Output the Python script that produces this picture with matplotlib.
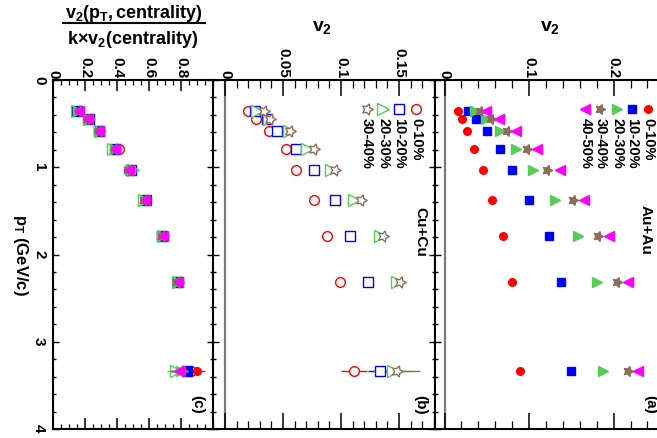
import matplotlib
matplotlib.use("Agg")
import matplotlib.pyplot as plt
from matplotlib.lines import Line2D

plt.rcParams['font.family'] = ['Liberation Sans', 'DejaVu Sans']
plt.rcParams['font.weight'] = 'bold'
plt.rcParams['mathtext.fontset'] = 'custom'
plt.rcParams['mathtext.rm'] = 'Liberation Sans:bold'
plt.rcParams['mathtext.it'] = 'Liberation Sans:bold'
plt.rcParams['mathtext.bf'] = 'Liberation Sans:bold'

# pT bin centres (GeV/c)
pt = [0.35, 0.45, 0.59, 0.79, 1.03, 1.37, 1.79, 2.32, 3.34]

# Au+Au v2(pT) per centrality
auau_0_10 = [0.016, 0.021, 0.027, 0.035, 0.045, 0.056, 0.069, 0.080, 0.089]
auau_10_20 = [0.028, 0.037, 0.050, 0.065, 0.080, 0.100, 0.123, 0.138, 0.150]
auau_20_30 = [0.036, 0.049, 0.065, 0.085, 0.105, 0.131, 0.158, 0.180, 0.187]
auau_30_40 = [0.042, 0.055, 0.074, 0.097, 0.121, 0.152, 0.182, 0.204, 0.217]
auau_40_50 = [0.049, 0.064, 0.085, 0.109, 0.136, 0.165, 0.194, 0.217, 0.229]

# Cu+Cu v2(pT) per centrality, with errors
cucu_0_10 = [0.020, 0.027, 0.038, 0.053, 0.061, 0.077, 0.088, 0.099, 0.111]
cucu_10_20 = [0.026, 0.036, 0.045, 0.061, 0.077, 0.095, 0.108, 0.123, 0.134]
cucu_20_30 = [0.028, 0.038, 0.055, 0.071, 0.091, 0.111, 0.134, 0.148, 0.145]
cucu_30_40 = [0.034, 0.039, 0.056, 0.077, 0.095, 0.117, 0.136, 0.151, 0.148]
cucu_err_0_10 = [0, 0, 0, 0, 0, 0, 0, 0, 0.011]
cucu_err_10_20 = [0, 0, 0, 0, 0, 0, 0, 0, 0.011]
cucu_err_20_30 = [0, 0, 0, 0, 0, 0, 0, 0, 0.015]
cucu_err_30_40 = [0, 0, 0, 0, 0, 0, 0, 0, 0.020]

# scaled ratio v2(pT,cent) / (k * v2(cent))
ratio_auau_0_10 = [0.155, 0.22, 0.29, 0.39, 0.48, 0.58, 0.69, 0.78, 0.90]
ratio_auau_10_20 = [0.15, 0.22, 0.29, 0.385, 0.475, 0.575, 0.685, 0.775, 0.84]
ratio_auau_20_30 = [0.155, 0.22, 0.29, 0.39, 0.48, 0.575, 0.68, 0.78, 0.80]
ratio_auau_30_40 = [0.16, 0.215, 0.285, 0.385, 0.47, 0.57, 0.68, 0.775, 0.81]
ratio_auau_40_50 = [0.16, 0.22, 0.29, 0.39, 0.475, 0.575, 0.685, 0.78, 0.79]
ratio_cucu_0_10 = [0.155, 0.22, 0.29, 0.41, 0.475, 0.58, 0.685, 0.775, 0.86]
ratio_cucu_10_20 = [0.15, 0.225, 0.29, 0.39, 0.485, 0.58, 0.68, 0.78, 0.84]
ratio_cucu_20_30 = [0.15, 0.225, 0.295, 0.375, 0.50, 0.57, 0.69, 0.78, 0.77]
ratio_cucu_30_40 = [0.155, 0.22, 0.29, 0.385, 0.48, 0.575, 0.685, 0.78, 0.80]
ratio_err_last = [0.05, 0.06, 0.06, 0.06, 0.06]

cent_auau = ['0-10%', '10-20%', '20-30%', '30-40%', '40-50%']
cent_cucu = ['0-10%', '10-20%', '20-30%', '30-40%']

RED, BLUE, GREEN, BROWN, MAG = '#ff0000', '#0000ff', '#55cc55', '#8c6e5a', '#ff00ff'
STAR = (5, 1, -90)
au_style = [('o', RED, 5.5), ('s', BLUE, 5.5), ('>', GREEN, 7), (STAR, BROWN, 7.5), ('<', MAG, 7)]
cu_style = [('o', RED, 7), ('s', BLUE, 7), ('>', GREEN, 8), (STAR, BROWN, 8.5)]

W, H = 657, 439
fig = plt.figure(figsize=(W / 100, H / 100), dpi=100)
y0 = 1 - 430 / H
h = (430 - 81) / H
ax_c = fig.add_axes([53 / W, y0, 160 / W, h])
ax_b = fig.add_axes([213 / W, y0, 222 / W, h])
ax_a = fig.add_axes([435 / W, y0, 237 / W, h])


def setup(ax, xlim, major, labels, minor, ml, nl):
    ax.set_xlim(*xlim)
    ax.set_ylim(4, 0)
    ax.set_xticks(major, labels)
    ax.set_xticks(minor, minor=True)
    ax.set_yticks([0, 1, 2, 3, 4])
    ax.set_yticks([v / 5 for v in range(21)], minor=True)
    ax.tick_params(axis='x', which='both', direction='in', top=True, bottom=True,
                   labeltop=True, labelbottom=False, labelrotation=-90,
                   labelsize=11, pad=2, width=1.1)
    ax.tick_params(axis='x', which='major', length=ml)
    ax.tick_params(axis='x', which='minor', length=nl, width=0.9)
    ax.tick_params(axis='y', which='both', direction='in', left=True, right=True,
                   labelleft=False, width=1.0)
    ax.tick_params(axis='y', which='major', length=4)
    ax.tick_params(axis='y', which='minor', length=2.2)
    for s in ax.spines.values():
        s.set_linewidth(1.5)


setup(ax_c, (0, 1.0), [0, 0.2, 0.4, 0.6, 0.8], ['0', '0.2', '0.4', '0.6', '0.8'],
      [v / 20 for v in range(21)], 8, 3.6)
ax_c.tick_params(axis='y', which='both', labelleft=True, labelrotation=-90,
                 labelsize=11, pad=5)
ax_c.set_yticks([0, 1, 2, 3, 4], ['0', '1', '2', '3', '4'])
setup(ax_b, (-0.0103, 0.181), [0, 0.05, 0.1, 0.15], ['0', '0.05', '0.1', '0.15'],
      [v / 100 for v in range(-1, 19)], 11.5, 5.8)
setup(ax_a, (-0.0113, 0.269), [0, 0.1, 0.2], ['0', '0.1', '0.2'],
      [v / 50 for v in range(0, 14)], 11.5, 5.8)

for ax in (ax_a, ax_b):
    ax.axvline(0, color='#7a7a7a', lw=1.6, zorder=1)

# panel (a): Au+Au
auau = [auau_0_10, auau_10_20, auau_20_30, auau_30_40, auau_40_50]
for vals, (m, c, ms) in zip(auau, au_style):
    ax_a.plot(vals, pt, ls='none', marker=m, color=c, ms=ms, mec=c, zorder=3)

# panel (b): Cu+Cu, open markers
cucu = [cucu_0_10, cucu_10_20, cucu_20_30, cucu_30_40]
cucu_err = [cucu_err_0_10, cucu_err_10_20, cucu_err_20_30, cucu_err_30_40]
for vals, err, (m, c, ms) in zip(cucu, cucu_err, cu_style):
    ax_b.errorbar(vals, pt, xerr=err, ls='none', marker=m, color=c, ms=ms,
                  mfc='white', mec=c, mew=1.0, elinewidth=1.0, capsize=0, zorder=3)

# panel (c): scaled ratio, both systems
ratio_cu = [ratio_cucu_0_10, ratio_cucu_10_20, ratio_cucu_20_30, ratio_cucu_30_40]
ratio_au = [ratio_auau_0_10, ratio_auau_10_20, ratio_auau_20_30, ratio_auau_30_40, ratio_auau_40_50]
for vals, err, (m, c, ms) in zip(ratio_cu, ratio_err_last, cu_style):
    ax_c.errorbar(vals[-1:], pt[-1:], xerr=[err], ls='none', color=c, elinewidth=1.0, capsize=0)
    ax_c.plot(vals, pt, ls='none', marker=m, color=c, ms=ms, mfc='none', mec=c, mew=1.0, zorder=3)
for vals, err, (m, c, ms) in zip(ratio_au, ratio_err_last, au_style):
    ax_c.errorbar(vals[-1:], pt[-1:], xerr=[err], ls='none', color=c, elinewidth=1.0, capsize=0)
    ax_c.plot(vals, pt, ls='none', marker=m, color=c, ms=ms, mec=c, zorder=4)


def vertical_legend(ax, xs, names, styles, filled, y_mark=0.917, y_text=0.895):
    for x, name, (m, c, ms) in zip(xs, names, styles):
        ax.add_line(Line2D([x], [y_mark], transform=ax.transAxes, marker=m, color=c,
                           ms=ms, mec=c, mfc=c if filled else 'none', ls='none',
                           mew=1.0, clip_on=False))
        ax.text(x, y_text, name, transform=ax.transAxes, rotation=-90,
                ha='center', va='top', fontsize=10.5)


vertical_legend(ax_a, [0.900, 0.833, 0.770, 0.698, 0.634], cent_auau, au_style, True)
vertical_legend(ax_b, [0.914, 0.838, 0.766, 0.694], cent_cucu, cu_style, False)

ax_a.text(0.888, 0.645, 'Au+Au', transform=ax_a.transAxes, rotation=-90,
          ha='center', va='top', fontsize=11)
ax_b.text(0.932, 0.640, 'Cu+Cu', transform=ax_b.transAxes, rotation=-90,
          ha='center', va='top', fontsize=11)
for ax, x, lab in ((ax_a, 0.909, '(a)'), (ax_b, 0.932, '(b)'), (ax_c, 0.90, '(c)')):
    ax.text(x, 0.072, lab, transform=ax.transAxes, rotation=-90,
            ha='center', va='center', fontsize=11)

# axis titles
fig.text(322 / W, 1 - 28 / H, r'$v_2$', ha='center', va='center', fontsize=14)
fig.text(550 / W, 1 - 28 / H, r'$v_2$', ha='center', va='center', fontsize=14)
fig.text(20 / W, 1 - 255 / H, r'$p_T$ (GeV/c)', rotation=-90,
         ha='center', va='center', fontsize=12)
fig.text(134 / W, 1 - 13 / H, r'$v_2(p_T,centrality)$', ha='center', va='center', fontsize=13)
fig.add_artist(Line2D([63 / W, 205 / W], [1 - 24 / H, 1 - 24 / H], color='black', lw=1.5))
fig.text(133 / W, 1 - 40 / H, r'$k$×$v_2(centrality)$', ha='center', va='center', fontsize=13)

fig.savefig('out.png', dpi=100)
